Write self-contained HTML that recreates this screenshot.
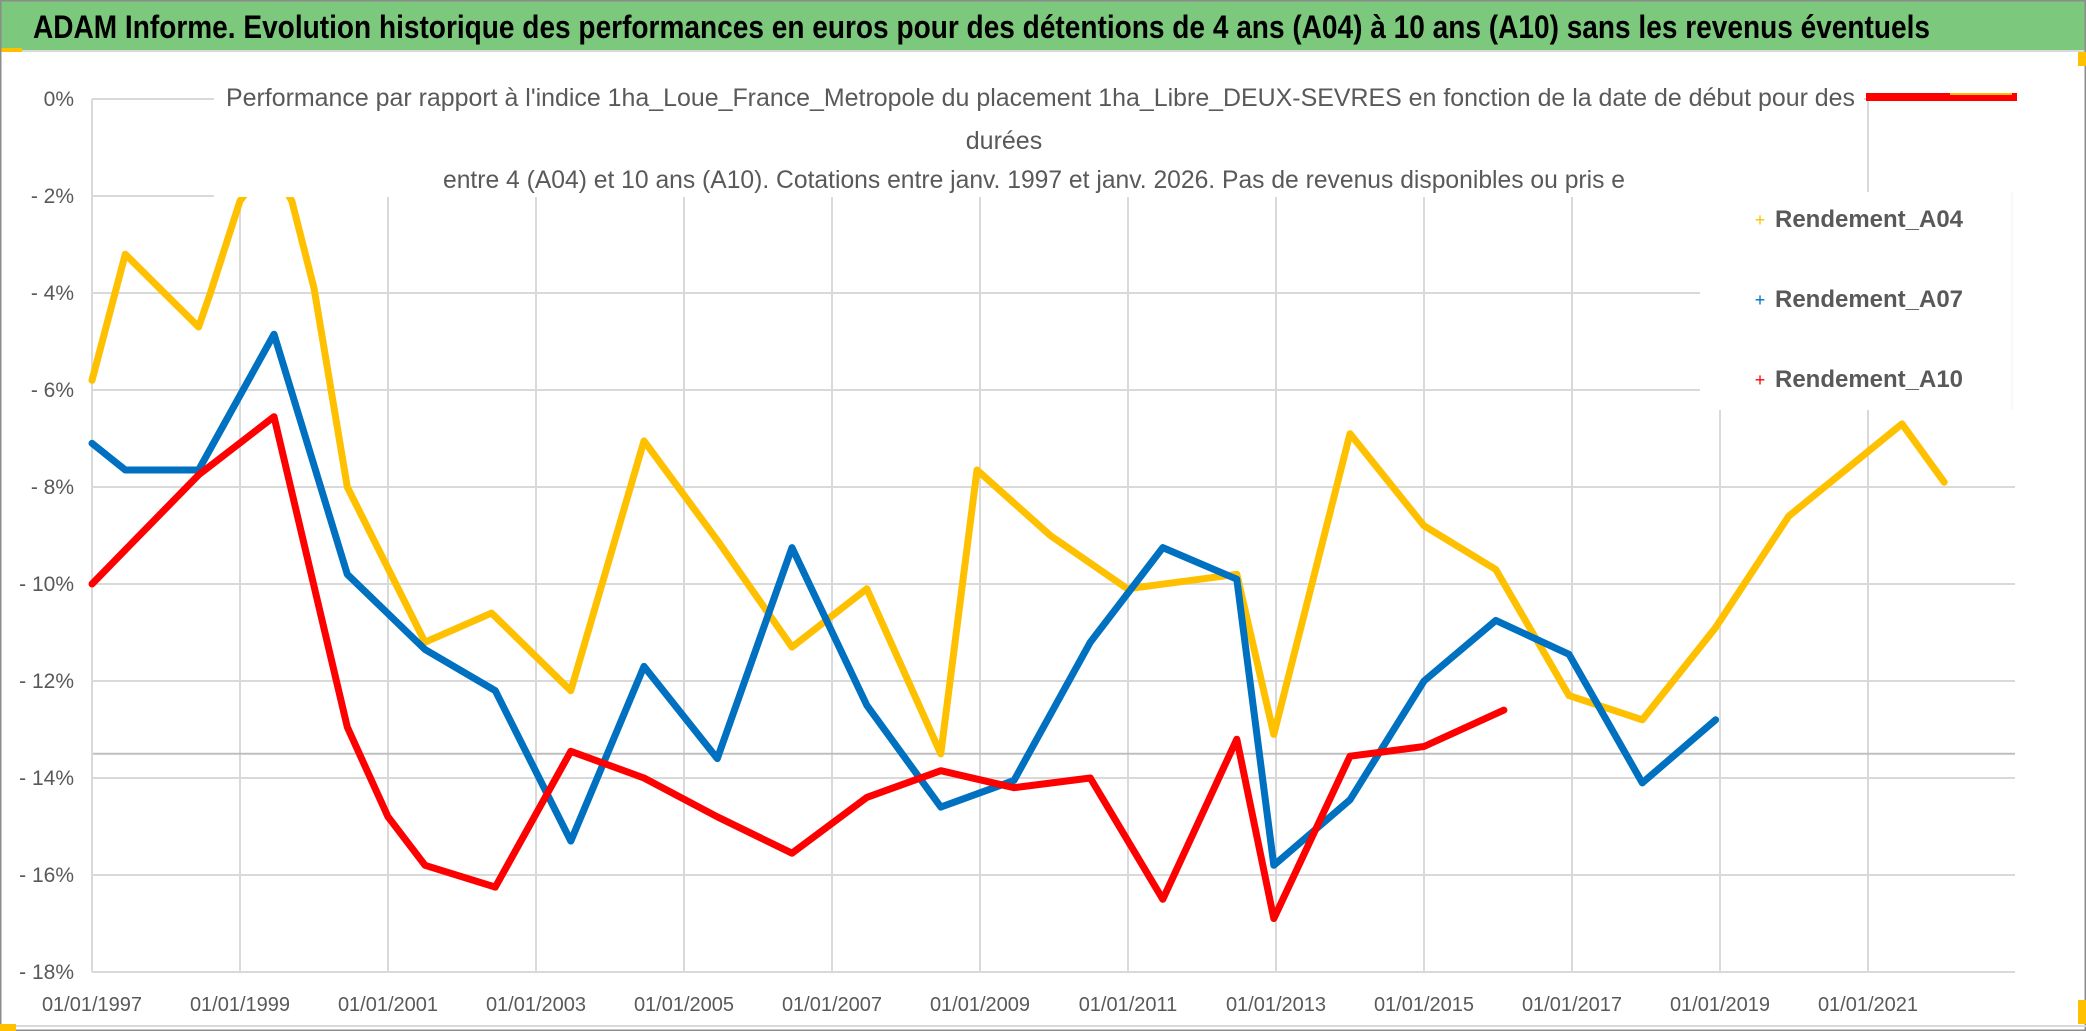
<!DOCTYPE html>
<html><head><meta charset="utf-8"><style>
html,body{margin:0;padding:0;background:#fff;}
svg{display:block;font-family:"Liberation Sans",sans-serif;}
</style></head><body>
<svg id="chart" width="2086" height="1031" viewBox="0 0 2086 1031">
<rect x="0" y="0" width="2086" height="1031" fill="#fff"/>
<g id="grid"></g>
<g id="series"></g>
<rect x="214" y="50" width="1650" height="147" fill="#fff"/>
<rect x="1700" y="192" width="315" height="218" fill="#fff"/>
<line x1="2012" y1="192" x2="2012" y2="410" stroke="#f2f2f2" stroke-width="1"/>
<rect x="0" y="0" width="2086" height="50" fill="#7cc87c"/>
<line x1="0" y1="51" x2="2086" y2="51" stroke="#d9d9d9" stroke-width="2"/>
<rect x="0" y="48" width="22" height="4" fill="#ffc000"/>
<text x="33" y="38" font-size="32" font-weight="bold" fill="#000" textLength="1897" lengthAdjust="spacingAndGlyphs">ADAM Informe. Evolution historique des performances en euros pour des détentions de 4 ans (A04) à 10 ans (A10) sans les revenus éventuels</text>
<text x="226" y="106" font-size="25" fill="#595959" textLength="1629" lengthAdjust="spacingAndGlyphs">Performance par rapport à l'indice 1ha_Loue_France_Metropole  du placement 1ha_Libre_DEUX-SEVRES en fonction de la date de début pour des</text>
<text x="1004" y="149" font-size="25" fill="#595959" text-anchor="middle">durées</text>
<text x="443" y="188" font-size="25" fill="#595959" textLength="1182" lengthAdjust="spacingAndGlyphs">entre 4 (A04) et 10 ans (A10). Cotations entre janv. 1997 et janv. 2026. Pas de revenus disponibles ou pris e</text>
<line x1="1868" y1="99" x2="1868" y2="182" stroke="#d9d9d9" stroke-width="2"/>
<line x1="1866" y1="97" x2="2017" y2="97" stroke="#ff0000" stroke-width="8"/>
<line x1="1950" y1="94" x2="2012" y2="94" stroke="#ffc000" stroke-width="2"/>
<g><text x="1760" y="226" font-size="18" fill="#ffc000" text-anchor="middle">+</text><text x="1775" y="227" font-size="24" font-weight="bold" fill="#595959" textLength="188" lengthAdjust="spacingAndGlyphs">Rendement_A04</text></g>
<g><text x="1760" y="306" font-size="18" fill="#0070c0" text-anchor="middle">+</text><text x="1775" y="307" font-size="24" font-weight="bold" fill="#595959" textLength="188" lengthAdjust="spacingAndGlyphs">Rendement_A07</text></g>
<g><text x="1760" y="386" font-size="18" fill="#ff0000" text-anchor="middle">+</text><text x="1775" y="387" font-size="24" font-weight="bold" fill="#595959" textLength="188" lengthAdjust="spacingAndGlyphs">Rendement_A10</text></g>
<g id="axes"></g>
<rect x="0.5" y="0.5" width="2085" height="1030" fill="none" stroke="#8c8c8c" stroke-width="2"/>
<line x1="0" y1="1026" x2="2086" y2="1026" stroke="#d9d9d9" stroke-width="2"/>
<rect x="0" y="1024" width="16" height="7" fill="#ffc000"/>
<rect x="2078" y="52" width="8" height="14" fill="#ffc000"/>
<rect x="2078" y="1000" width="8" height="24" fill="#ffc000"/>
</svg>
<script>
const xTickYears = [1997,1999,2001,2003,2005,2007,2009,2011,2013,2015,2017,2019,2021];
const yTicks = [0,-2,-4,-6,-8,-10,-12,-14,-16,-18];
const a04Dates = [1997.0,1997.45,1998.44,1998.6,1999.0,1999.4,1999.7,2000.0,2000.45,2001.5,2002.4,2003.47,2004.46,2005.45,2006.46,2007.47,2008.47,2008.96,2009.95,2010.99,2012.47,2012.97,2014.0,2015.0,2015.97,2016.96,2017.95,2018.94,2019.93,2021.46,2022.03];
const a04Values = [-5.8,-3.2,-4.7,-4.0,-2.1,-1.3,-2.1,-3.9,-8.0,-11.2,-10.6,-12.2,-7.05,-9.1,-11.3,-10.1,-13.5,-7.65,-9.0,-10.1,-9.8,-13.1,-6.9,-8.8,-9.7,-12.3,-12.8,-10.9,-8.6,-6.7,-7.9];
const a07Dates = [1997.0,1997.45,1998.44,1999.46,2000.45,2001.5,2002.45,2003.47,2004.46,2005.45,2006.46,2007.47,2008.47,2009.46,2010.49,2011.47,2012.47,2012.97,2014.0,2015.0,2015.97,2016.96,2017.95,2018.94];
const a07Values = [-7.1,-7.65,-7.65,-4.85,-9.8,-11.35,-12.2,-15.3,-11.7,-13.6,-9.25,-12.5,-14.6,-14.05,-11.2,-9.25,-9.9,-15.8,-14.45,-12.0,-10.75,-11.45,-14.1,-12.8];
const a10Dates = [1997.0,1998.44,1999.46,2000.45,2001.0,2001.5,2002.45,2003.47,2004.46,2005.45,2006.46,2007.47,2008.47,2009.46,2010.49,2011.47,2012.47,2012.97,2014.0,2015.0,2016.08];
const a10Values = [-10.0,-7.75,-6.55,-12.95,-14.8,-15.8,-16.25,-13.45,-14.0,-14.8,-15.55,-14.4,-13.85,-14.2,-14.0,-16.5,-13.2,-16.9,-13.55,-13.35,-12.6];

const NS = "http://www.w3.org/2000/svg";
const X0 = 92, X1 = 2015, Y0 = 99, Y1 = 972;
function xScale(yr){ return X0 + (yr - 1997) * 74; }
function yScale(v){ return Y0 + (-v) * 48.5; }
function mk(tag, attrs, parent){ const e = document.createElementNS(NS, tag); for (const k in attrs) e.setAttribute(k, attrs[k]); parent.appendChild(e); return e; }

const grid = document.getElementById('grid');
const axes = document.getElementById('axes');
yTicks.forEach(v => {
  const y = yScale(v);
  const l = mk('line', {x1: X0, y1: y, x2: X1, y2: y, stroke: '#d9d9d9', 'stroke-width': 2}, grid);
  
  
  const t = mk('text', {x: 74, y: y + 7, 'font-size': 21, fill: '#595959', 'text-anchor': 'end'}, axes);
  t.textContent = v === 0 ? '0%' : '- ' + Math.abs(v) + '%';
  
  
});
xTickYears.forEach((yr, i) => {
  const x = xScale(yr);
  if (i > 0) {
    const l = mk('line', {x1: x, y1: Y0, x2: x, y2: Y1, stroke: '#d9d9d9', 'stroke-width': 2}, grid);
    
    
  }
  const t = mk('text', {x: x, y: 1011, 'font-size': 20, fill: '#595959', 'text-anchor': 'middle'}, axes);
  t.textContent = '01/01/' + yr;
  
  
});
const ref = mk('line', {x1: X0, y1: yScale(-13.5), x2: X1, y2: yScale(-13.5), stroke: '#bfbfbf', 'stroke-width': 2}, grid);


const yAxis = mk('line', {x1: X0, y1: Y0, x2: X0, y2: Y1, stroke: '#d9d9d9', 'stroke-width': 2}, grid);



const seriesLayer = document.getElementById('series');
function drawSeries(dates, values, color, name){
  const pts = dates.map((d, i) => xScale(d).toFixed(1) + ',' + yScale(values[i]).toFixed(1)).join(' ');
  const p = mk('polyline', {points: pts, fill: 'none', stroke: color, 'stroke-width': 7, 'stroke-linejoin': 'round', 'stroke-linecap': 'round'}, seriesLayer);
  
  
}
drawSeries(a04Dates, a04Values, '#ffc000', 'series-a04');
drawSeries(a07Dates, a07Values, '#0070c0', 'series-a07');
drawSeries(a10Dates, a10Values, '#ff0000', 'series-a10');
</script>
</body></html>
